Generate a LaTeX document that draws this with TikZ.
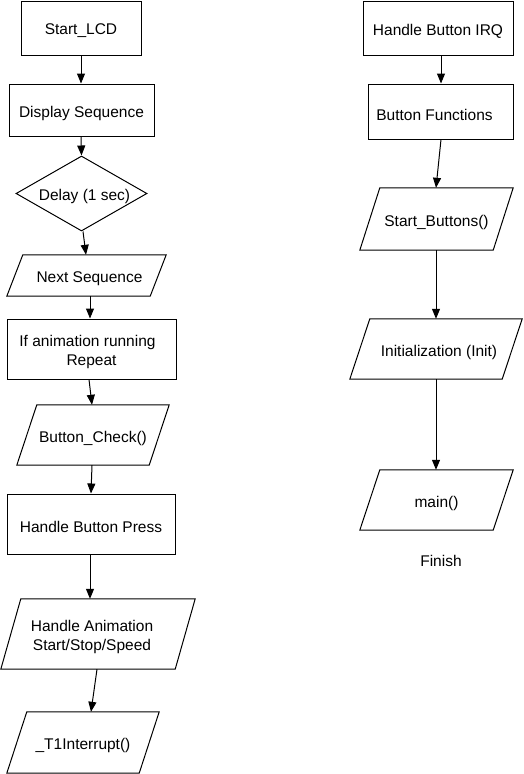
\documentclass[tikz,border=0pt]{standalone}
\usepackage{fontspec}
\setmainfont{Liberation Sans}
\usetikzlibrary{shapes.geometric,arrows.meta}
\tikzset{
  txt/.style={font=\fontsize{15.5}{19}\selectfont},
  box/.style={draw=black, line width=1pt, rectangle, inner sep=0pt, align=center, txt},
  dia/.style={draw=black, line width=1pt, diamond, inner sep=0pt, aspect=1.75, align=center, txt},
  para/.style={draw=none, rectangle, inner sep=0pt, align=center, txt},
  lbl/.style={inner sep=0pt, txt},
  conn/.style={line width=1pt, -{Triangle[length=10pt,width=8pt]}},
  pline/.style={draw=black, line width=1pt, line join=miter}
}
\newcommand{\paradraw}[2]{% node name, skew
  \draw[pline] ([xshift=#2pt]#1.north west) -- (#1.north east) -- ([xshift=-#2pt]#1.south east) -- (#1.south west) -- cycle;}
\newcommand{\dn}[1]{\raisebox{-3pt}[\height][\depth]{#1}}
\newcommand{\two}[2]{\dn{\begin{tabular}{@{}c@{}}#1\\#2\end{tabular}}}
\begin{document}
\begin{tikzpicture}[x=1pt,y=-1pt]
\useasboundingbox[fill=white] (0,0) rectangle (523,774);
% left column
\node[box, minimum width=120pt, minimum height=54pt] (slcd) at (81,28) {\dn{Start\_LCD}};
\node[box, minimum width=145pt, minimum height=52pt] (disp) at (81.5,110) {\dn{Display Sequence}};
\node[dia, minimum width=131pt, minimum height=75pt] (delay) at (81.5,193.5) {\dn{\hspace*{6pt}Delay (1 sec)}};
\node[para, minimum width=159pt, minimum height=41pt] (next) at (86.5,275.5) {\dn{\hspace*{6pt}Next Sequence}};
\paradraw{next}{16}
\node[box, minimum width=169pt, minimum height=60pt] (ifan) at (91.5,349) {\two{\hspace*{-8pt}If animation running}{Repeat}};
\node[para, minimum width=152pt, minimum height=60pt] (bchk) at (93,435) {\dn{Button\_Check()}};
\paradraw{bchk}{20}
\node[box, minimum width=168pt, minimum height=60pt] (hbp) at (91,524) {\dn{Handle Button Press}};
\node[para, minimum width=194pt, minimum height=70pt] (hani) at (98,634) {\two{\hspace*{-12pt}Handle Animation}{\hspace*{-12pt}Start/Stop/Speed}};
\paradraw{hani}{20}
\node[para, minimum width=152pt, minimum height=61pt] (t1) at (83,742.5) {\dn{\_T1Interrupt()}};
\paradraw{t1}{20}
% right column
\node[box, minimum width=150pt, minimum height=54pt] (hirq) at (438,28) {\dn{Handle Button IRQ}};
\node[box, minimum width=145pt, minimum height=55pt] (bfun) at (440.5,111.5) {\dn{\hspace*{-12pt}Button Functions}};
\node[para, minimum width=153pt, minimum height=62pt] (sbtn) at (436.5,219) {\dn{Start\_Buttons()}};
\paradraw{sbtn}{20}
\node[para, minimum width=172pt, minimum height=60pt] (init) at (436,349) {\dn{\hspace*{6pt}Initialization (Init)}};
\paradraw{init}{20}
\node[para, minimum width=153pt, minimum height=60pt] (mainn) at (436.5,500) {\dn{main()}};
\paradraw{mainn}{20}
\node[lbl] (fin) at (441,561) {Finish};
% connectors
\draw[conn] (slcd.south) -- (disp.north -| slcd.south);
\draw[conn] ([xshift=-0.5pt]disp.south) -- (delay.north);
\draw[conn] ([xshift=1.5pt]delay.south) -- ([xshift=-0.5pt]next.north);
\draw[conn] ([xshift=3.5pt]next.south) -- ([xshift=-1.5pt]ifan.north);
\draw[conn] ([xshift=-2.5pt]ifan.south) -- ([xshift=-1pt]bchk.north);
\draw[conn] ([xshift=-1pt]bchk.south) -- (hbp.north);
\draw[conn] ([xshift=-1pt]hbp.south) -- ([xshift=-8pt]hani.north);
\draw[conn] ([xshift=-1pt]hani.south) -- ([xshift=8pt]t1.north);
\draw[conn] ([xshift=3pt]hirq.south) -- ([xshift=0.5pt]bfun.north);
\draw[conn] ([xshift=0.5pt]bfun.south) -- ([xshift=-0.5pt]sbtn.north);
\draw[conn] ([xshift=-0.5pt]sbtn.south) -- (init.north);
\draw[conn] (init.south) -- ([xshift=-0.5pt]mainn.north);
\end{tikzpicture}
\end{document}
